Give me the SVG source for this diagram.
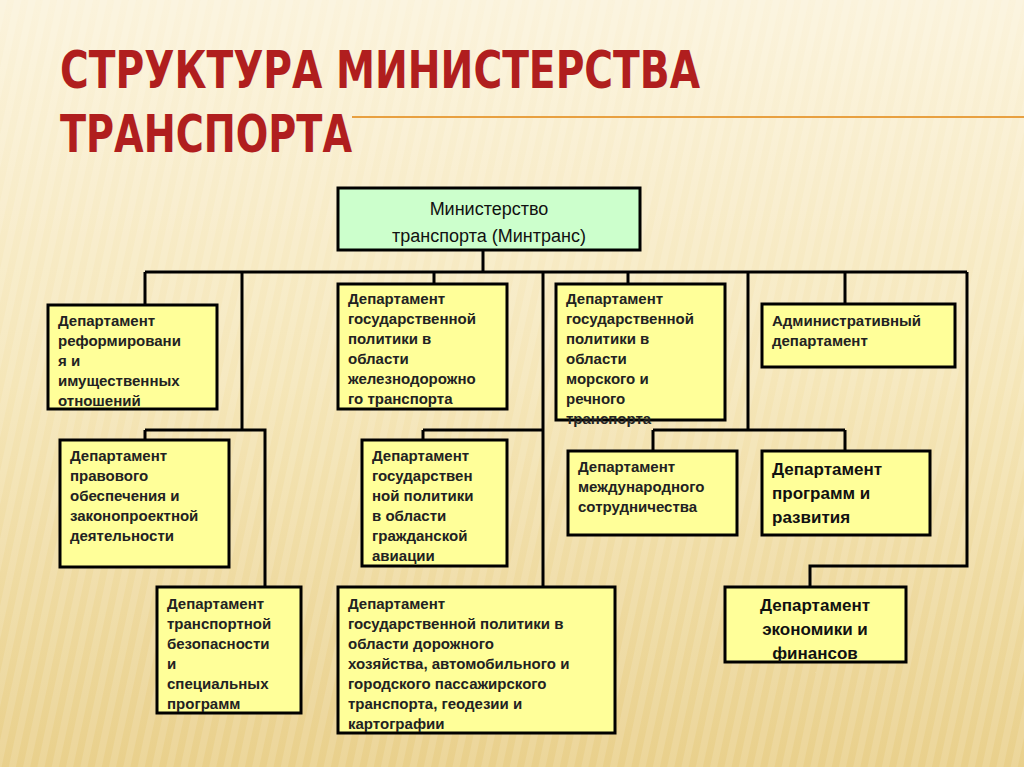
<svg xmlns="http://www.w3.org/2000/svg" width="1024" height="767" viewBox="0 0 1024 767">
<defs>
<linearGradient id="bg" x1="0" y1="0" x2="0" y2="1"><stop offset="0" stop-color="#fbf3dc"/><stop offset="0.5" stop-color="#f5e6b8"/><stop offset="1" stop-color="#e9d08c"/></linearGradient>
<pattern id="str" width="14" height="14" patternUnits="userSpaceOnUse" patternTransform="rotate(12)"><rect width="7" height="14" fill="#ffffff" opacity="0.12"/></pattern>
</defs>
<style>
.box{fill:#ffff99;stroke:#000;stroke-width:3}
.root{fill:#ccffcc;stroke:#000;stroke-width:3}
.t{font-family:"Liberation Sans",Arial,sans-serif;font-weight:bold;font-size:15px;fill:#222}
.tb{font-family:"Liberation Sans",Arial,sans-serif;font-weight:bold;font-size:17px;fill:#111}
.tr{font-family:"Liberation Sans",Arial,sans-serif;font-size:18px;fill:#111}
.c{fill:none;stroke:#000;stroke-width:3}
.title{font-family:"DejaVu Sans Condensed","Liberation Sans",sans-serif;font-weight:bold;font-size:52px;fill:#b01e1e}
</style>
<rect width="1024" height="767" fill="url(#bg)"/>
<rect width="1024" height="767" fill="url(#str)"/>
<line x1="352" y1="117" x2="1024" y2="117" stroke="#e8a040" stroke-width="2"/>
<text class="title" x="60" y="88" textLength="640" lengthAdjust="spacingAndGlyphs">СТРУКТУРА МИНИСТЕРСТВА</text>
<text class="title" x="60" y="152" textLength="292" lengthAdjust="spacingAndGlyphs">ТРАНСПОРТА</text>
<g id="connectors">
<path class="c" d="M483 250V272M145 272H967M145 272V305M242 272V430M434 272V284M543 272V587M628 272V284M748 272V430M845 272V304M967 272V566H810V587"/>
<path class="c" d="M145 430H265V587M145 430V440M423 430H543M423 430V440M653 430H845M653 430V451M845 430V451"/>
</g>
<g id="n0"><rect class="root" x="338" y="188" width="302" height="62"/><text class="tr" text-anchor="middle"><tspan x="489" y="215">Министерство</tspan><tspan x="489" y="242">транспорта (Минтранс)</tspan></text></g>
<g id="n1"><rect class="box" x="48" y="305" width="169" height="104"/><text class="t"><tspan x="58" y="326">Департамент</tspan><tspan x="58" y="346">реформировани</tspan><tspan x="58" y="366">я и</tspan><tspan x="58" y="386">имущественных</tspan><tspan x="58" y="406">отношений</tspan></text></g>
<g id="n2"><rect class="box" x="338" y="284" width="169" height="125"/><text class="t"><tspan x="348" y="304">Департамент</tspan><tspan x="348" y="324">государственной</tspan><tspan x="348" y="344">политики в</tspan><tspan x="348" y="364">области</tspan><tspan x="348" y="384">железнодорожно</tspan><tspan x="348" y="404">го транспорта</tspan></text></g>
<g id="n3"><rect class="box" x="556" y="284" width="169" height="136"/><text class="t"><tspan x="566" y="304">Департамент</tspan><tspan x="566" y="324">государственной</tspan><tspan x="566" y="344">политики в</tspan><tspan x="566" y="364">области</tspan><tspan x="566" y="384">морского и</tspan><tspan x="566" y="404">речного</tspan><tspan x="566" y="424">транспорта</tspan></text></g>
<g id="n4"><rect class="box" x="762" y="304" width="193" height="63"/><text class="t"><tspan x="772" y="326">Административный</tspan><tspan x="772" y="346">департамент</tspan></text></g>
<g id="n5"><rect class="box" x="60" y="440" width="169" height="127"/><text class="t"><tspan x="70" y="461">Департамент</tspan><tspan x="70" y="481">правового</tspan><tspan x="70" y="501">обеспечения и</tspan><tspan x="70" y="521">законопроектной</tspan><tspan x="70" y="541">деятельности</tspan></text></g>
<g id="n6"><rect class="box" x="362" y="440" width="145" height="126"/><text class="t"><tspan x="372" y="461">Департамент</tspan><tspan x="372" y="481">государствен</tspan><tspan x="372" y="501">ной политики</tspan><tspan x="372" y="521">в области</tspan><tspan x="372" y="541">гражданской</tspan><tspan x="372" y="561">авиации</tspan></text></g>
<g id="n7"><rect class="box" x="568" y="451" width="169" height="84"/><text class="t"><tspan x="578" y="472">Департамент</tspan><tspan x="578" y="492">международного</tspan><tspan x="578" y="512">сотрудничества</tspan></text></g>
<g id="n8"><rect class="box" x="762" y="451" width="168" height="84"/><text class="tb"><tspan x="772" y="475">Департамент</tspan><tspan x="772" y="499">программ и</tspan><tspan x="772" y="523">развития</tspan></text></g>
<g id="n9"><rect class="box" x="157" y="587" width="144" height="126"/><text class="t"><tspan x="167" y="609">Департамент</tspan><tspan x="167" y="629">транспортной</tspan><tspan x="167" y="649">безопасности</tspan><tspan x="167" y="669">и</tspan><tspan x="167" y="689">специальных</tspan><tspan x="167" y="709">программ</tspan></text></g>
<g id="n10"><rect class="box" x="338" y="587" width="277" height="146"/><text class="t"><tspan x="348" y="609">Департамент</tspan><tspan x="348" y="629">государственной политики в</tspan><tspan x="348" y="649">области дорожного</tspan><tspan x="348" y="669">хозяйства, автомобильного и</tspan><tspan x="348" y="689">городского пассажирского</tspan><tspan x="348" y="709">транспорта, геодезии и</tspan><tspan x="348" y="729">картографии</tspan></text></g>
<g id="n11"><rect class="box" x="725" y="587" width="181" height="75"/><text class="tb" text-anchor="middle"><tspan x="815" y="611">Департамент</tspan><tspan x="815" y="635">экономики и</tspan><tspan x="815" y="659">финансов</tspan></text></g>
</svg>
